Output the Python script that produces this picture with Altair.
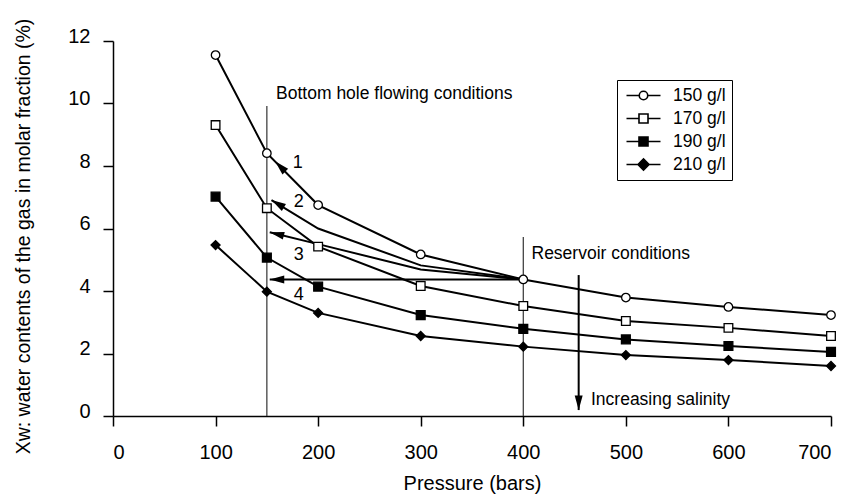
import altair as alt
import pandas as pd

FONT = "Liberation Sans"

# ---- data ----
pressure = [100, 150, 200, 300, 400, 500, 600, 700]
series_names = ["150 g/l", "170 g/l", "190 g/l", "210 g/l"]
x150 = [11.55, 8.41, 6.75, 5.17, 4.37, 3.79, 3.49, 3.23]
x170 = [9.31, 6.65, 5.42, 4.16, 3.52, 3.04, 2.82, 2.56]
x190 = [7.02, 5.07, 4.14, 3.23, 2.79, 2.45, 2.24, 2.05]
x210 = [5.47, 3.98, 3.30, 2.56, 2.22, 1.95, 1.79, 1.60]

# condition paths (reservoir -> bottom hole) and salinity arrow
path_ids = ["2"] * 4 + ["3"] * 4 + ["4"] * 2 + ["s"] * 2
path_p = [400, 300, 200, 154.5, 400, 300, 200, 152.8, 400, 152.8, 454, 454]
path_v = [4.37, 4.82, 6.0, 6.91, 4.37, 4.69, 5.5, 5.88, 4.37, 4.37, 4.51, 0.19]

arrow_p = [158, 154.5, 152.8, 152.8, 454]
arrow_v = [8.15, 6.91, 5.88, 4.37, 0.19]
arrow_angle = [315, 301, 284, 270, 180]

rule_p = [150, 400]
rule_top = [9.92, 5.73]

label_text = ["Bottom hole flowing conditions", "Reservoir conditions", "Increasing salinity"]
label_p = [159, 408, 466]
label_v = [10.29, 5.18, 0.51]

num_text = ["1", "2", "3", "4"]
num_p = [180, 181, 181, 181]
num_v = [8.1, 6.86, 5.15, 3.87]

x_ticks = [0, 100, 200, 300, 400, 500, 600, 700]
y_ticks = [0, 2, 4, 6, 8, 10, 12]

# ---- tables ----
rows = []
for name, vals in zip(series_names, [x150, x170, x190, x210]):
    for p, v in zip(pressure, vals):
        rows.append({"series": name, "p": p, "v": v})
df = pd.DataFrame(rows)

paths = pd.DataFrame({"id": path_ids, "p": path_p, "v": path_v,
                      "o": list(range(len(path_ids)))})
arrows = pd.DataFrame({"p": arrow_p, "v": arrow_v, "angle": arrow_angle})
rules = pd.DataFrame({"p": rule_p, "v0": [0, 0], "v1": rule_top})
labels = pd.DataFrame({"t": label_text, "p": label_p, "v": label_v})
nums = pd.DataFrame({"t": num_text, "p": num_p, "v": num_v})

xs = alt.Scale(domain=[0, 700], nice=False, zero=False)
ys = alt.Scale(domain=[0, 12], nice=False)

X = alt.X("p:Q", scale=xs,
          axis=alt.Axis(values=x_ticks, title="Pressure (bars)", tickSize=10,
                        labelPadding=16, titlePadding=11, grid=False))
Y = alt.Y("v:Q", scale=ys,
          axis=alt.Axis(values=y_ticks, title="Xw: water contents of the gas in molar fraction (%)",
                        tickSize=10, labelPadding=13, labelOffset=-5, titlePadding=34,
                        titleFontSize=19.5, titleY=195, grid=False))

rule_layer = alt.Chart(rules).mark_rule(color="#333333", strokeWidth=1.2).encode(
    x=alt.X("p:Q", scale=xs), y=alt.Y("v0:Q", scale=ys), y2="v1:Q")

path_layer = alt.Chart(paths).mark_line(color="black", strokeWidth=2).encode(
    x=alt.X("p:Q", scale=xs), y=alt.Y("v:Q", scale=ys), detail="id:N", order="o:Q")

line_layer = alt.Chart(df).mark_line(color="black", strokeWidth=2).encode(
    x=X, y=Y, detail="series:N")

arrow_layer = alt.Chart(arrows).mark_point(
    shape="M0,0L-0.55,2L0.55,2Z", filled=True, color="black", opacity=1, size=210
).encode(x=alt.X("p:Q", scale=xs), y=alt.Y("v:Q", scale=ys),
         angle=alt.Angle("angle:Q", scale=None))

point_layer = alt.Chart(df).mark_point(stroke="black", strokeWidth=1.3, opacity=1).encode(
    x=alt.X("p:Q", scale=xs), y=alt.Y("v:Q", scale=ys),
    shape=alt.Shape("series:N", scale=alt.Scale(domain=series_names,
                    range=["circle", "square", "square", "diamond"]), legend=None),
    fill=alt.Fill("series:N", scale=alt.Scale(domain=series_names,
                  range=["white", "white", "black", "black"]), legend=None),
    size=alt.Size("series:N", scale=alt.Scale(domain=series_names,
                  range=[72, 81, 81, 121]), legend=None),
)

text_layer = alt.Chart(labels).mark_text(
    align="left", baseline="middle", font=FONT, fontSize=17.5, color="black"
).encode(x=alt.X("p:Q", scale=xs), y=alt.Y("v:Q", scale=ys), text="t:N")

num_layer = alt.Chart(nums).mark_text(
    align="center", baseline="middle", font=FONT, fontSize=18, color="black"
).encode(x=alt.X("p:Q", scale=xs), y=alt.Y("v:Q", scale=ys), text="t:N")

legend_paths = [
    "M-2,0L-0.5,0M0.5,0L2,0M0.5,0A0.5,0.5,0,1,1,-0.5,0A0.5,0.5,0,1,1,0.5,0Z",
    "M-2,0L-0.53,0M0.53,0L2,0M-0.53,-0.53L0.53,-0.53L0.53,0.53L-0.53,0.53Z",
    "M-2,0L-0.53,0M0.53,0L2,0M-0.53,-0.53L0.53,-0.53L0.53,0.53L-0.53,0.53Z",
    "M-2,0L2,0M-0.65,0L0,-0.65L0.65,0L0,0.65Z",
]
leg = alt.Legend(title=None, orient="none", legendX=504, legendY=39,
                 strokeColor="black", fillColor="white", padding=6,
                 symbolSize=289, symbolStrokeWidth=1.6, symbolStrokeColor="black",
                 symbolOffset=11, labelOffset=20, labelFont=FONT, labelFontSize=17.5,
                 labelColor="black", rowPadding=5, cornerRadius=0)
legend_layer = alt.Chart(df).mark_point(stroke="black", strokeWidth=1.6, opacity=1, clip=True).encode(
    x=alt.value(0), y=alt.value(-2000),
    shape=alt.Shape("series:N", scale=alt.Scale(domain=series_names, range=legend_paths), legend=leg),
    fill=alt.Fill("series:N", scale=alt.Scale(domain=series_names,
                  range=["white", "white", "black", "black"]), legend=leg),
    stroke=alt.Stroke("series:N", scale=alt.Scale(domain=series_names,
                      range=["black", "black", "black", "black"]), legend=leg),
)

chart = alt.layer(
    rule_layer, path_layer, line_layer, arrow_layer, point_layer,
    text_layer, num_layer, legend_layer
).resolve_scale(shape="independent", fill="independent", size="independent",
                stroke="independent").properties(
    width=718, height=375,
    autosize=alt.AutoSizeParams(type="none"),
    padding={"left": 105, "top": 33, "right": 16, "bottom": 79},
).configure_view(stroke=None).configure_axis(
    labelFont=FONT, titleFont=FONT, labelFontSize=20, titleFontSize=20,
    labelColor="black", titleColor="black", titleFontWeight="normal",
    domainColor="black", tickColor="black", domainWidth=1.5, tickWidth=1.5,
)

chart.save("out.html", embed_options={"renderer": "svg", "actions": False})
